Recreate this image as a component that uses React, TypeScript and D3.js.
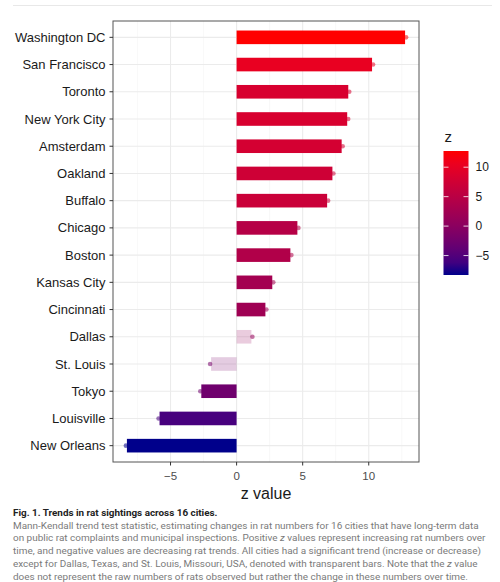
import { useEffect, useRef } from "react";
import * as d3 from "d3";

const W = 500;
const H = 582;
const margin = { top: 21, right: 81, bottom: 120, left: 113 };

const cities = [
  "Washington DC",
  "San Francisco",
  "Toronto",
  "New York City",
  "Amsterdam",
  "Oakland",
  "Buffalo",
  "Chicago",
  "Boston",
  "Kansas City",
  "Cincinnati",
  "Dallas",
  "St. Louis",
  "Tokyo",
  "Louisville",
  "New Orleans",
];
const zValues = [
  12.75, 10.25, 8.45, 8.37, 7.95, 7.25, 6.85, 4.6, 4.07, 2.7, 2.18, 1.12,
  -1.93, -2.67, -5.83, -8.3,
];
// cities without a significant trend (drawn transparent)
const notSignificant = ["Dallas", "St. Louis"];
const xTicks = [-5, 0, 5, 10];
const legendTicks = [10, 5, 0, -5];

const captionTitle = "Fig. 1. Trends in rat sightings across 16 cities.";
// each line is a list of [text, italic] pieces
const captionLines: Array<Array<[string, boolean]>> = [
  [["Mann-Kendall trend test statistic, estimating changes in rat numbers for 16 cities that have long-term data", false]],
  [
    ["on public rat complaints and municipal inspections. Positive ", false],
    ["z", true],
    [" values represent increasing rat numbers over", false],
  ],
  [["time, and negative values are decreasing rat trends. All cities had a significant trend (increase or decrease)", false]],
  [
    ["except for Dallas, Texas, and St. Louis, Missouri, USA, denoted with transparent bars. Note that the ", false],
    ["z", true],
    [" value", false],
  ],
  [["does not represent the raw numbers of rats observed but rather the change in these numbers over time.", false]],
];

const App = () => {
  const svgRef = useRef<SVGSVGElement>(null);

  useEffect(() => {
    const svg = d3.select(svgRef.current);
    svg.selectAll("*").remove();

    const x0 = margin.left;
    const x1 = W - margin.right;
    const y0 = margin.top;
    const y1 = H - margin.bottom;

    const lo = d3.min(zValues) as number;
    const hi = d3.max(zValues) as number;
    const pad = (hi - lo) * 0.05;
    const xScale = d3.scaleLinear().domain([lo - pad, hi + pad]).range([x0, x1]);
    const yScale = d3.scalePoint<string>().domain(cities).range([y0, y1]).padding(0.6);
    const step = yScale.step();
    const color = d3
      .scaleLinear<string>()
      .domain([lo, hi])
      .range(["#00008b", "#ff0000"])
      .interpolate(d3.interpolateLab);

    // separator line at the top
    svg
      .append("line")
      .attr("x1", 13)
      .attr("x2", 492)
      .attr("y1", 5.5)
      .attr("y2", 5.5)
      .attr("stroke", "#e8e8e8")
      .attr("stroke-width", 1);

    // grid
    const minor = d3.range(-7.5, 13, 5);
    svg
      .append("g")
      .selectAll("line")
      .data(minor)
      .join("line")
      .attr("x1", (d) => xScale(d))
      .attr("x2", (d) => xScale(d))
      .attr("y1", y0)
      .attr("y2", y1)
      .attr("stroke", "#f3f3f3")
      .attr("stroke-width", 0.6);
    svg
      .append("g")
      .selectAll("line")
      .data(xTicks)
      .join("line")
      .attr("x1", (d) => xScale(d))
      .attr("x2", (d) => xScale(d))
      .attr("y1", y0)
      .attr("y2", y1)
      .attr("stroke", "#ebebeb")
      .attr("stroke-width", 1.1);
    svg
      .append("g")
      .selectAll("line")
      .data(cities)
      .join("line")
      .attr("x1", x0)
      .attr("x2", x1)
      .attr("y1", (d) => yScale(d) as number)
      .attr("y2", (d) => yScale(d) as number)
      .attr("stroke", "#ebebeb")
      .attr("stroke-width", 1.1);

    // bars
    const rows = cities.map((c, i) => ({ city: c, z: zValues[i] }));
    const barH = step * 0.5;
    svg
      .append("g")
      .selectAll("rect")
      .data(rows)
      .join("rect")
      .attr("x", (d) => xScale(Math.min(0, d.z)))
      .attr("y", (d) => (yScale(d.city) as number) - barH / 2)
      .attr("width", (d) => Math.abs(xScale(d.z) - xScale(0)))
      .attr("height", barH)
      .attr("fill", (d) => color(d.z))
      .attr("fill-opacity", (d) => (notSignificant.includes(d.city) ? 0.2 : 1));

    // points
    svg
      .append("g")
      .selectAll("circle")
      .data(rows)
      .join("circle")
      .attr("cx", (d) => xScale(d.z) + (d.z > 0 ? 1 : -1))
      .attr("cy", (d) => yScale(d.city) as number)
      .attr("r", 2.3)
      .attr("fill", (d) => color(d.z))
      .attr("fill-opacity", 0.55);

    // panel border
    svg
      .append("rect")
      .attr("x", x0)
      .attr("y", y0)
      .attr("width", x1 - x0)
      .attr("height", y1 - y0)
      .attr("fill", "none")
      .attr("stroke", "#555")
      .attr("stroke-width", 1);

    // y axis
    const yAxis = svg.append("g");
    yAxis
      .selectAll("line")
      .data(cities)
      .join("line")
      .attr("x1", x0 - 3.5)
      .attr("x2", x0)
      .attr("y1", (d) => yScale(d) as number)
      .attr("y2", (d) => yScale(d) as number)
      .attr("stroke", "#333");
    yAxis
      .selectAll("text")
      .data(cities)
      .join("text")
      .attr("x", x0 - 7.5)
      .attr("y", (d) => yScale(d) as number)
      .attr("dy", "0.35em")
      .attr("text-anchor", "end")
      .attr("font-family", "Liberation Sans, Arial, sans-serif")
      .attr("font-size", 13)
      .attr("fill", "#1a1a1a")
      .text((d) => d);

    // x axis
    const xAxis = svg.append("g");
    xAxis
      .selectAll("line")
      .data(xTicks)
      .join("line")
      .attr("x1", (d) => xScale(d))
      .attr("x2", (d) => xScale(d))
      .attr("y1", y1)
      .attr("y2", y1 + 3.5)
      .attr("stroke", "#333");
    xAxis
      .selectAll("text")
      .data(xTicks)
      .join("text")
      .attr("x", (d) => xScale(d))
      .attr("y", y1 + 13.5)
      .attr("dy", "0.35em")
      .attr("text-anchor", "middle")
      .attr("font-family", "Liberation Sans, Arial, sans-serif")
      .attr("font-size", 11.5)
      .attr("fill", "#4d4d4d")
      .text((d) => (d < 0 ? `\u2212${Math.abs(d)}` : `${d}`));
    svg
      .append("text")
      .attr("x", (x0 + x1) / 2)
      .attr("y", y1 + 31)
      .attr("dy", "0.35em")
      .attr("text-anchor", "middle")
      .attr("font-family", "Liberation Sans, Arial, sans-serif")
      .attr("font-size", 16)
      .attr("fill", "#1a1a1a")
      .text("z value");

    // legend colour bar
    const lx = 443.5;
    const lw = 25;
    const legendY = d3.scaleLinear().domain([lo, hi]).range([275, 151]);
    const defs = svg.append("defs");
    const grad = defs
      .append("linearGradient")
      .attr("id", "zgrad")
      .attr("x1", "0%")
      .attr("x2", "0%")
      .attr("y1", "100%")
      .attr("y2", "0%");
    d3.range(0, 1.0001, 0.1).forEach((t) => {
      grad
        .append("stop")
        .attr("offset", `${t * 100}%`)
        .attr("stop-color", color(lo + t * (hi - lo)));
    });
    svg
      .append("rect")
      .attr("x", lx)
      .attr("y", legendY(hi))
      .attr("width", lw)
      .attr("height", legendY(lo) - legendY(hi))
      .attr("fill", "url(#zgrad)");
    const lg = svg.append("g");
    legendTicks.forEach((t) => {
      const ty = legendY(t);
      lg.append("line")
        .attr("x1", lx)
        .attr("x2", lx + 5)
        .attr("y1", ty)
        .attr("y2", ty)
        .attr("stroke", "white")
        .attr("stroke-opacity", 0.8);
      lg.append("line")
        .attr("x1", lx + lw - 5)
        .attr("x2", lx + lw)
        .attr("y1", ty)
        .attr("y2", ty)
        .attr("stroke", "white")
        .attr("stroke-opacity", 0.8);
      lg.append("text")
        .attr("x", lx + lw + 7)
        .attr("y", ty)
        .attr("dy", "0.35em")
        .attr("font-family", "Liberation Sans, Arial, sans-serif")
        .attr("font-size", 12)
        .attr("fill", "#1a1a1a")
        .text(t < 0 ? `\u2212${Math.abs(t)}` : `${t}`);
    });
    svg
      .append("text")
      .attr("x", lx + 1)
      .attr("y", 142)
      .attr("font-family", "Liberation Sans, Arial, sans-serif")
      .attr("font-size", 15)
      .attr("fill", "#1a1a1a")
      .text("z");

    // caption
    svg
      .append("text")
      .attr("x", 13)
      .attr("y", 515.5)
      .attr("font-family", "Roboto, sans-serif")
      .attr("font-weight", "bold")
      .attr("font-size", 9.9)
      .attr("fill", "#222")
      .text(captionTitle);
    captionLines.forEach((parts, i) => {
      const t = svg
        .append("text")
        .attr("x", 13)
        .attr("y", 528.5 + i * 12.9)
        .attr("font-family", "Roboto, sans-serif")
        .attr("font-size", 9.95)
        .attr("fill", "#7a7a7a");
      parts.forEach(([s, it]) => {
        t.append("tspan")
          .attr("font-style", it ? "italic" : "normal")
          .text(s);
      });
    });
  }, []);

  return (
    <svg
      ref={svgRef}
      width={W}
      height={H}
      viewBox={`0 0 ${W} ${H}`}
      style={{ position: "absolute", left: 0, top: 0, background: "white" }}
    ></svg>
  );
};

export default App;
